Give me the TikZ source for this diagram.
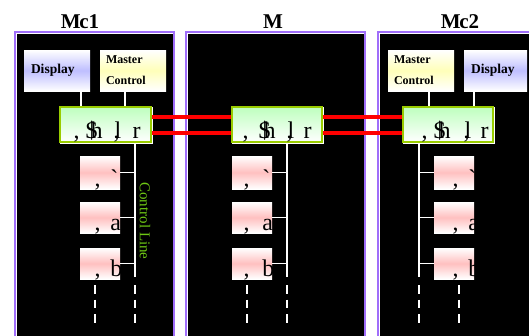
\documentclass[tikz,border=0pt]{standalone}
\usepackage{fontspec}
\setmainfont{Liberation Serif}
\usetikzlibrary{calc}
\definecolor{pborder}{RGB}{160,110,250}
\definecolor{gborder}{RGB}{153,204,0}
\definecolor{ctext}{RGB}{110,200,20}
\definecolor{lav}{RGB}{190,190,255}
\definecolor{lyel}{RGB}{255,255,185}
\definecolor{lpink}{RGB}{255,192,192}
\definecolor{lgreen}{RGB}{190,255,190}
\newcommand\gl[2]{\makebox[0pt][l]{\hspace*{#1pt}#2}}
\newcommand\gtxt[4]{\gl{#1}{,}\gl{#2}{\$}\gl{\numexpr#2+5\relax}{h}\gl{#3}{l}\gl{\numexpr#3-1\relax}{,}\gl{#4}{r}}
\begin{document}
\begin{tikzpicture}[x=1pt,y=-1pt,
  titlef/.style={font=\fontsize{21}{21}\selectfont\bfseries, anchor=base, inner sep=0},
  dispbox/.style={top color=white, bottom color=white, middle color=lav, minimum height=41pt, inner ysep=0pt, inner xsep=7pt, align=left, font=\fontsize{13.5}{16}\selectfont\bfseries},
  mcbox/.style={top color=white, bottom color=white, middle color=lyel, minimum height=41pt, inner ysep=0pt, inner xsep=6pt, text width=54pt, align=left, font=\fontsize{12}{21}\selectfont\bfseries},
  gbox/.style={draw=gborder, line width=2pt, top color=lgreen, bottom color=white, minimum height=35pt, inner sep=0pt,
     preaction={draw=white, line width=1.5pt, transform canvas={shift={(1pt,-1pt)}}}},
  pbox/.style={top color=white, bottom color=white, middle color=lpink, minimum width=40pt, inner sep=0pt},
  bigtxt/.style={font=\fontsize{24}{24}\selectfont, anchor=base west, inner sep=0pt},
  wline/.style={draw=white, line width=1.8pt},
  wdash/.style={draw=white, line width=1.8pt, dash pattern=on 8.5pt off 6pt},
  redline/.style={draw=red, line width=3.5pt},
]
\useasboundingbox (0,0) rectangle (529,335);
\fill[white] (0,0) rectangle (529,335);
\begin{scope}
\clip (0,0) rectangle (529,335);
% panels
\fill[pborder] (14,31) rectangle (175,340);
\fill[white] (16,33) rectangle (173,340);
\fill[black] (17,34) rectangle (173,340);
\fill[pborder] (185,31) rectangle (366,340);
\fill[white] (187,33) rectangle (364,340);
\fill[black] (188,34) rectangle (364,340);
\fill[pborder] (377,31) rectangle (540,340);
\fill[white] (379,33) rectangle (540,340);
\fill[black] (380,34) rectangle (540,340);
\end{scope}

% titles
\node[titlef] (T1) at (80,28) {M\kern-1.5pt c1};
\node[titlef] (T2) at (273,28) {M};
\node[titlef] (T3) at (460,28) {M\kern-1.5pt c2};

% top boxes
\node[dispbox, text width=52pt] (D1) at (57,70.5) {Display};
\node[mcbox] (MC1) at (133,70.5) {Master\\Control};
\node[mcbox] (MC3) at (421,70.5) {Master\\Control};
\node[dispbox, text width=49pt] (D3) at (495.5,70.5) {Display};

% links to the green boxes (drawn first, boxes cover the ends)
\draw[wline] ($(D1.south west)!0.864!(D1.south east)$) coordinate (a1) -- (a1 |- 0,110);
\draw[wline] ($(MC1.south west)!0.379!(MC1.south east)$) coordinate (a2) -- (a2 |- 0,110);
\draw[wline] ($(MC3.south west)!0.62!(MC3.south east)$) coordinate (a3) -- (a3 |- 0,110);
\draw[wline] ($(D3.south west)!0.159!(D3.south east)$) coordinate (a4) -- (a4 |- 0,110);

% green boxes
\node[gbox, minimum width=91pt] (G1) at (105.5,124.5) {};
\node[gbox, minimum width=90pt] (G2) at (277,124.5) {};
\node[gbox, minimum width=90pt] (G3) at (448,124.5) {};
\node[bigtxt] (G1t) at ([yshift=5pt]G1.south west) {\gtxt{14}{26}{55}{73}};
\node[bigtxt] (G2t) at ([yshift=5pt]G2.south west) {\gtxt{11}{27}{56}{72}};
\node[bigtxt] (G3t) at ([yshift=5pt]G3.south west) {\gtxt{19}{31}{62}{78}};

% red bus lines
\draw[redline] ([yshift=7.5pt]G1.east) -- ([yshift=7.5pt]G2.west);
\draw[redline] ([yshift=-8.5pt]G1.east) -- ([yshift=-8.5pt]G2.west);
\draw[redline] ([yshift=7.5pt]G2.east) -- ([yshift=7.5pt]G3.west);
\draw[redline] ([yshift=-8.5pt]G2.east) -- ([yshift=-8.5pt]G3.west);

% pink boxes
\foreach \n/\x/\c/\l in {1/100/14/30, 2/252/11/30, 3/454/18/34}{
  \node[pbox, minimum height=33pt] (P\n a) at (\x,172.5) {};
  \node[pbox, minimum height=31pt] (P\n b) at (\x,217.5) {};
  \node[pbox, minimum height=31pt] (P\n c) at (\x,263.5) {};
  \node[bigtxt] (P\n at) at ([yshift=2.5pt]P\n a.south west) {\gl{\c}{,}\gl{\l}{\textasciigrave}};
  \node[bigtxt] (P\n bt) at ([yshift=2.5pt]P\n b.south west) {\gl{\c}{,}\gl{\l}{a}};
  \node[bigtxt] (P\n ct) at ([yshift=2.5pt]P\n c.south west) {\gl{\c}{,}\gl{\l}{b}};
}

% control lines
\coordinate (L1) at (135,277);
\coordinate (L2) at (287,277);
\coordinate (L3) at (419,277);
\draw[wline] (G1.south -| L1) -- (L1);
\draw[wline] (G2.south -| L2) -- (L2);
\draw[wline] (G3.south -| L3) -- (L3);
\foreach \r in {a,b,c}{
  \draw[wline] (P1\r.east) -- (P1\r.east -| L1);
  \draw[wline] (P2\r.east) -- (P2\r.east -| L2);
  \draw[wline] (P3\r.west) -- (P3\r.west -| L3);
}

% dashed continuations
\foreach \i/\x in {1/95, 2/135, 3/247, 4/287, 5/419, 6/459}{
  \coordinate (d\i t) at (\x,285);
  \coordinate (d\i b) at (\x,323);
  \draw[wdash] (d\i t) -- (d\i b);
}

\node[rotate=-90, text=ctext, font=\fontsize{15}{15}\selectfont, inner sep=0pt] (CL) at (145,221) {Control Line};
\end{tikzpicture}
\end{document}
